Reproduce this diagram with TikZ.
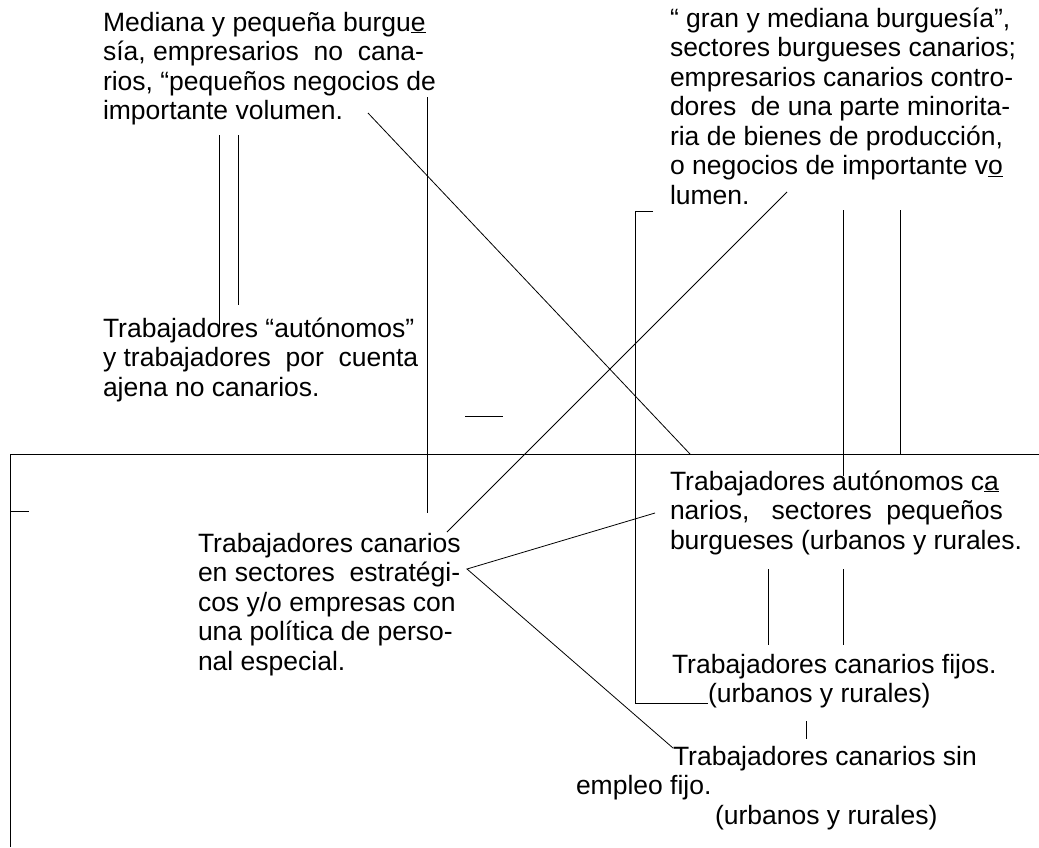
\documentclass[tikz,border=0pt]{standalone}
\usepackage{fontspec}
\setmainfont{Liberation Sans}
\begin{document}
\begin{tikzpicture}[x=1pt,y=-1pt,
  conn/.style={draw=black,line width=0.8pt},
  txt/.style={inner sep=0pt,outer sep=0pt,anchor=base west,font=\fontsize{26.5}{29.5}\selectfont}]
\useasboundingbox (0,0) rectangle (1039,847);
% text blocks
\node[txt] (A) at (103,31) {\vtop{\hbox{Mediana y pequeña burgu\underline{e}}\hbox{sía, empresarios\ \ no\ \ cana-}\hbox{rios, “pequeños negocios de}\hbox{importante volumen.}}};
\node[txt] (B) at (670,27) {\vtop{\hbox{“ gran y mediana burguesía”,}\hbox{sectores burgueses canarios;}\hbox{empresarios canarios contro-}\hbox{dores\ \ de una parte minorita-}\hbox{ria de bienes de producción,}\hbox{o negocios de importante v\underline{o}}\hbox{lumen.}}};
\node[txt] (C) at (103,337) {\vtop{\hbox{Trabajadores “autónomos”}\hbox{y trabajadores\ \ por\ \ cuenta}\hbox{ajena no canarios.}}};
\node[txt] (D) at (198,552) {\vtop{\hbox{Trabajadores canarios}\hbox{en sectores\ \ estratégi-}\hbox{cos y/o empresas con}\hbox{una política de perso-}\hbox{nal especial.}}};
\node[txt] (E) at (670,490) {\vtop{\hbox{Trabajadores autónomos c\underline{a}}\hbox{narios,\ \ \ sectores\ \ pequeños}\hbox{burgueses (urbanos y rurales.}}};
\node[txt] (F) at (672,673) {\vtop{\hbox{Trabajadores canarios fijos.}\hbox{\hspace{36pt}(urbanos y rurales)}}};
\node[txt] (G) at (576,765) {\vtop{\hbox{\hspace{97pt}Trabajadores canarios sin}\hbox{empleo fijo.}\hbox{\hspace{139pt}(urbanos y rurales)}}};
% connector end points
\coordinate (a1) at (219,135); \coordinate (a1e) at (219,332);
\coordinate (a2) at (238,135); \coordinate (a2e) at (238,305);
\coordinate (v1) at (427,97);  \coordinate (v1e) at (427,513);
\coordinate (x1) at (368,113); \coordinate (x1e) at (690,454);
\coordinate (x2) at (447,532); \coordinate (x2e) at (787,192);
\coordinate (d1) at (465,416); \coordinate (d1e) at (503,416);
\coordinate (f0) at (10,847);  \coordinate (f1) at (10,454); \coordinate (f2) at (1039,454);
\coordinate (d2) at (10,511);  \coordinate (d2e) at (29,511);
\coordinate (w) at (467,569);  \coordinate (w1) at (655,513); \coordinate (w2) at (673,748);
\coordinate (b0) at (653,211); \coordinate (b1) at (635,211); \coordinate (b2) at (635,703); \coordinate (b3) at (708,703);
\coordinate (r1) at (843,210); \coordinate (r1e) at (843,476);
\coordinate (r2) at (900,210); \coordinate (r2e) at (900,454);
\coordinate (s1) at (768,569); \coordinate (s1e) at (768,645);
\coordinate (s2) at (843,569); \coordinate (s2e) at (843,645);
\coordinate (t1) at (806,721); \coordinate (t1e) at (806,739);
% connectors
\draw[conn] (a1) -- (a1e);
\draw[conn] (a2) -- (a2e);
\draw[conn] (v1) -- (v1e);
\draw[conn] (x1) -- (x1e);
\draw[conn] (x2) -- (x2e);
\draw[conn] (d1) -- (d1e);
\draw[conn] (f0) -- (f1) -- (f2);
\draw[conn] (d2) -- (d2e);
\draw[conn] (w1) -- (w) -- (w2);
\draw[conn] (b0) -- (b1) -- (b2) -- (b3);
\draw[conn] (r1) -- (r1e);
\draw[conn] (r2) -- (r2e);
\draw[conn] (s1) -- (s1e);
\draw[conn] (s2) -- (s2e);
\draw[conn] (t1) -- (t1e);
\end{tikzpicture}
\end{document}
